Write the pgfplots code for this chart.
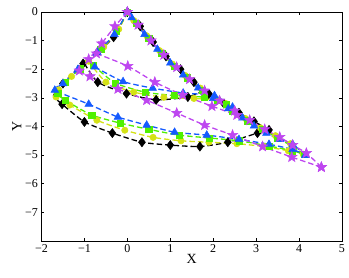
\documentclass[border=0pt]{standalone}
\usepackage{fontspec}
\setmainfont{Liberation Serif}
\usepackage{pgfplots}
\pgfplotsset{compat=1.18}
\usetikzlibrary{plotmarks}

\definecolor{cblk}{rgb}{0,0,0}
\definecolor{cyel}{RGB}{212,226,20}
\definecolor{cgrn}{RGB}{80,240,0}
\definecolor{cblu}{RGB}{20,90,255}
\definecolor{cmag}{RGB}{190,70,240}

% filled five-pointed star
\pgfdeclareplotmark{fstar}{%
  \pgfpathmoveto{\pgfpointpolar{90}{\pgfplotmarksize}}%
  \pgfpathlineto{\pgfpointpolar{126}{0.42\pgfplotmarksize}}%
  \pgfpathlineto{\pgfpointpolar{162}{\pgfplotmarksize}}%
  \pgfpathlineto{\pgfpointpolar{198}{0.42\pgfplotmarksize}}%
  \pgfpathlineto{\pgfpointpolar{234}{\pgfplotmarksize}}%
  \pgfpathlineto{\pgfpointpolar{270}{0.42\pgfplotmarksize}}%
  \pgfpathlineto{\pgfpointpolar{306}{\pgfplotmarksize}}%
  \pgfpathlineto{\pgfpointpolar{342}{0.42\pgfplotmarksize}}%
  \pgfpathlineto{\pgfpointpolar{18}{\pgfplotmarksize}}%
  \pgfpathlineto{\pgfpointpolar{54}{0.42\pgfplotmarksize}}%
  \pgfpathclose
  \pgfusepathqfillstroke}

\pgfplotsset{
  ser/.style={smooth, tension=0.35, line width=1.3pt, dash pattern=on 5.5pt off 3pt, mark options={solid, line width=0.5pt}},
  sblk/.style={ser, cblk, mark=diamond*, mark size=4.6pt},
  syel/.style={ser, cyel, mark=*, mark size=3.2pt},
  sgrn/.style={ser, cgrn, mark=square*, mark size=3.1pt},
  sblu/.style={ser, cblu, mark=triangle*, mark size=4.4pt},
  smag/.style={ser, cmag, mark=fstar, mark size=5.4pt},
}

\begin{document}
\begin{tikzpicture}
\begin{axis}[
  scale only axis, width=300.5pt, height=229pt,
  xmin=-2, xmax=5, ymin=-8, ymax=0,
  xtick={-2,-1,...,5}, ytick={-7,-6,...,0},
  xticklabels={−2,−1,0,1,2,3,4,5},
  yticklabels={−7,−6,−5,−4,−3,−2,−1,0},
  tick align=inside, major tick length=3pt,
  tick style={black, line width=0.5pt},
  axis line style={line width=0.9pt},
  ticklabel style={font=\fontsize{12}{13}\selectfont},
  xlabel={X}, ylabel={Y},
  label style={font=\fontsize{14}{15}\selectfont},
  xlabel style={yshift=5pt},
  ylabel style={yshift=-3pt},
  clip=false,
]
% black
\addplot[sblk, mark indices={1,2,3,4,5,7,8,9,10,11,12,13,14}] coordinates {
(0,0) (-0.32,-0.88) (-0.68,-1.38) (-1.03,-1.8) (-1.5,-2.5) (-1.72,-2.92)
(-1.52,-3.22) (-1.0,-3.84) (-0.35,-4.23) (0.34,-4.55) (1.0,-4.65) (1.69,-4.7)
(2.34,-4.55) (3.03,-4.23) (3.3,-4.12)};
\addplot[sblk] coordinates {
(3.3,-4.12) (2.95,-3.82) (2.6,-3.52) (2.25,-3.2) (1.9,-2.86) (1.55,-2.45)
(1.24,-2.0) (0.9,-1.55) (0.6,-1.05) (0.3,-0.5) (0,0)};
\addplot[sblk, mark indices={2,3,4,5}] coordinates {
(-1.0,-1.8) (-0.69,-2.45) (-0.02,-2.85) (0.67,-3.07) (1.41,-2.97) (1.8,-2.74)};
% yellow
\addplot[syel] coordinates {
(0,0) (-0.2,-0.6) (-0.55,-1.22) (-0.9,-1.7) (-1.3,-2.25) (-1.6,-2.72) (-1.66,-2.97)
(-1.34,-3.25) (-0.71,-3.78) (-0.06,-4.13) (0.6,-4.38) (1.25,-4.5) (1.9,-4.55)
(2.55,-4.6) (3.2,-4.7) (3.75,-4.85) (4.1,-4.97)};
\addplot[syel] coordinates {
(4.1,-4.97) (3.8,-4.6) (3.45,-4.32) (3.1,-4.05) (2.75,-3.72) (2.4,-3.38)
(2.05,-3.02) (1.7,-2.66) (1.35,-2.22) (1.05,-1.82) (0.75,-1.35) (0.45,-0.83)
(0.15,-0.3) (0,0)};
\addplot[syel] coordinates {
(-0.9,-1.72) (-0.5,-2.45) (0.15,-2.8) (0.85,-2.98) (1.55,-3.02) (2.1,-3.08) (2.3,-3.2)};
% green
\addplot[sgrn] coordinates {
(0,0) (-0.25,-0.68) (-0.62,-1.3) (-1.1,-1.98) (-1.45,-2.45) (-1.62,-2.85)
(-1.45,-3.08) (-0.83,-3.6) (-0.17,-3.88) (0.5,-4.1) (1.2,-4.3) (1.9,-4.4)
(2.6,-4.5) (3.3,-4.68) (3.85,-4.85) (4.12,-4.97)};
\addplot[sgrn] coordinates {
(4.12,-4.97) (3.85,-4.7) (3.5,-4.4) (3.15,-4.1) (2.8,-3.8) (2.45,-3.45)
(2.1,-3.08) (1.75,-2.72) (1.4,-2.3) (1.1,-1.9) (0.8,-1.45) (0.5,-0.93)
(0.2,-0.4) (0,0)};
\addplot[sgrn] coordinates {
(-0.8,-1.85) (-0.29,-2.48) (0.41,-2.8) (1.1,-2.92) (1.8,-2.98) (2.3,-3.22)};
% blue
\addplot[sblu] coordinates {
(0,0) (-0.3,-0.78) (-0.7,-1.4) (-1.15,-2.0) (-1.5,-2.5) (-1.69,-2.73)
(-0.9,-3.22) (-0.22,-3.67) (0.45,-3.95) (1.1,-4.2) (1.85,-4.3) (2.6,-4.45)
(3.3,-4.62) (3.85,-4.8) (4.15,-5.0)};
\addplot[sblu] coordinates {
(4.15,-5.0) (3.85,-4.62) (3.55,-4.45) (3.24,-4.23) (2.95,-3.98) (2.68,-3.7)
(2.35,-3.38) (2.0,-3.02) (1.65,-2.65) (1.3,-2.2) (1.0,-1.78) (0.7,-1.3)
(0.4,-0.78) (0.1,-0.2) (0,0)};
\addplot[sblu] coordinates {
(-0.76,-1.92) (-0.1,-2.43) (0.59,-2.66) (1.3,-2.83) (2.03,-2.92) (2.45,-3.32)};
% magenta
\addplot[smag] coordinates {
(0,0) (-0.29,-0.5) (-0.6,-1.1) (-0.9,-1.65) (-1.12,-2.05)
(-0.87,-2.25) (-0.22,-2.69) (0.45,-3.08) (1.15,-3.53) (1.8,-3.95) (2.45,-4.3)
(3.15,-4.7) (3.83,-5.07) (4.52,-5.42)};
\addplot[smag] coordinates {
(4.52,-5.42) (4.17,-4.93) (3.85,-4.65) (3.55,-4.37) (3.2,-4.1) (2.85,-3.78)
(2.5,-3.45) (2.15,-3.1) (1.8,-2.75) (1.45,-2.35) (1.15,-1.93) (0.85,-1.5)
(0.55,-1.0) (0.25,-0.45) (0,0)};
\addplot[smag] coordinates {
(-0.72,-1.45) (0.01,-1.89) (0.64,-2.45) (1.29,-2.9) (1.97,-3.29) (2.55,-3.6)};
\end{axis}
\pgfresetboundingbox
\path[use as bounding box] (-41.5pt,-37pt) rectangle (307.5pt,241pt);
\end{tikzpicture}
\end{document}
